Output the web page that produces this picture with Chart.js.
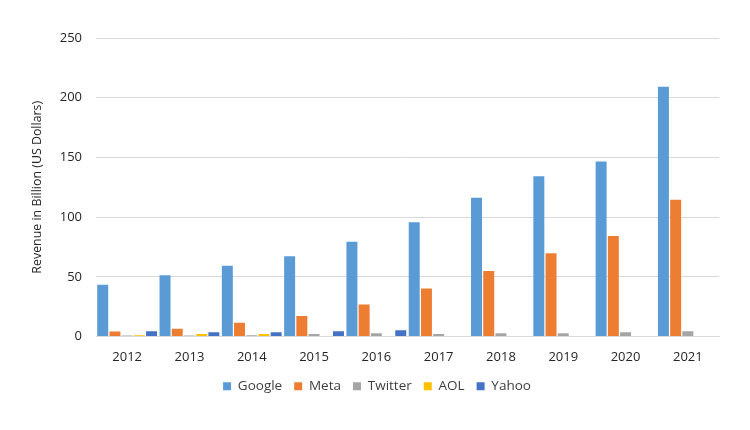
<!DOCTYPE html>
<html>
<head>
<meta charset="utf-8">
<script src="https://cdn.jsdelivr.net/npm/chart.js@4.4.0/dist/chart.umd.min.js"></script>
<style>
  html, body { margin: 0; padding: 0; background: #fff; }
  #wrap { width: 750px; height: 430px; }
</style>
</head>
<body>
<div id="wrap"><canvas id="myChart"></canvas></div>
<script>
// years on the x axis
var years = ['2012', '2013', '2014', '2015', '2016', '2017', '2018', '2019', '2020', '2021'];
// revenue in billion US dollars
var google = [43.3, 51.4, 59.2, 67.3, 79.3, 95.6, 116.2, 134.3, 146.6, 209.1];
var meta = [4.2, 6.4, 11.5, 17.1, 26.9, 40.3, 54.8, 69.8, 84.1, 114.5];
var twitter = [0.9, 0.9, 1.1, 2.0, 2.8, 2.0, 2.8, 2.8, 3.6, 4.4];
var aol = [1.1, 2.0, 2.0, null, null, null, null, null, null, null];
var yahoo = [4.5, 3.6, 3.6, 4.5, 5.3, null, null, null, null, null];
var yTicks = [0, 50, 100, 150, 200, 250];

var font = "'Open Sans', 'Noto Sans', sans-serif";

var ctx = document.getElementById('myChart').getContext('2d');
var chart = new Chart(ctx, {
  type: 'bar',
  data: {
    labels: years,
    datasets: [
      { label: 'Google', data: google, backgroundColor: '#5B9BD5' },
      { label: 'Meta', data: meta, backgroundColor: '#ED7D31' },
      { label: 'Twitter', data: twitter, backgroundColor: '#A5A5A5' },
      { label: 'AOL', data: aol, backgroundColor: '#FFC000' },
      { label: 'Yahoo', data: yahoo, backgroundColor: '#4472C4' }
    ]
  },
  options: {
    responsive: true,
    maintainAspectRatio: false,
    animation: false,
    datasets: {
      bar: { categoryPercentage: 0.98, barPercentage: 0.9 }
    },
    layout: { padding: { left: 35, right: 31, top: 38, bottom: 27 } },
    plugins: {
      legend: {
        position: 'bottom',
        labels: {
          boxWidth: 8,
          boxHeight: 8,
          padding: 12,
          color: '#404040',
          font: { family: font, size: 13.5 }
        }
      },
      tooltip: { enabled: false }
    },
    scales: {
      x: {
        grid: { display: false },
        border: { display: true, color: '#d9d9d9' },
        ticks: { color: '#262626', font: { family: font, size: 13 }, padding: 5 },
        afterFit: function (scale) { scale.height = 31; }
      },
      y: {
        min: 0,
        max: 250,
        afterBuildTicks: function (scale) {
          scale.ticks = yTicks.map(function (v) { return { value: v }; });
        },
        grid: { color: '#d9d9d9', drawTicks: false },
        border: { display: false },
        ticks: { color: '#262626', font: { family: font, size: 13 }, padding: 14 },
        title: {
          display: true,
          text: 'Revenue in Billion (US Dollars)',
          color: '#262626',
          font: { family: font, size: 12.4 },
          padding: { top: -5, bottom: 0 }
        },
        afterFit: function (scale) { scale.width = 61; }
      }
    }
  }
});
</script>
</body>
</html>
